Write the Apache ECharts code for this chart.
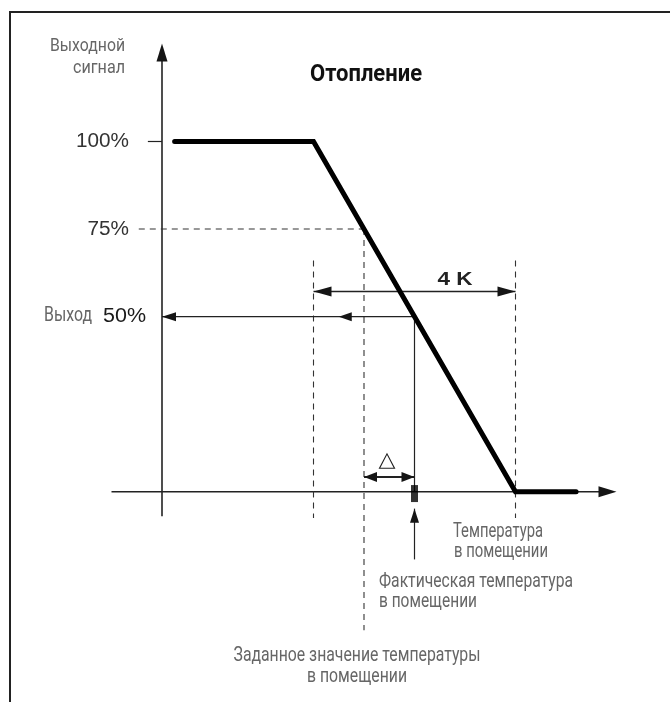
<!DOCTYPE html>
<html><head><meta charset="utf-8">
<script src="https://cdn.jsdelivr.net/npm/echarts@6/dist/echarts.min.js"></script>
<style>html,body{margin:0;padding:0;background:#fff}#c{width:670px;height:702px}</style>
</head><body><div id="c"></div>
<script>
// ---- data (temperature in K relative to the output axis, output in %) ----
const temperature = [0.25, 3, 7, 8.2];
const outputSignal = [100, 100, 0, 0];
const bandLow = 3, bandHigh = 7, setpoint = 4, actualTemp = 5;
const actualOutput = 50, setpointOutput = 75;
const tickValues = [100, 75, 50];
const tickLabels = ['100%', '75%', '50%'];
const axisXRange = [-1, 9];
const axisYRange = [-7, 128];

const COND = 'Roboto,"Liberation Sans",sans-serif';
const REG = '"Liberation Sans",Arial,sans-serif';

// guide segments: [kind, x1, y1, x2, y2]
const segments = [
  ['axis', axisXRange[0], 0, axisXRange[1], 0],
  ['axis', 0, axisYRange[0], 0, axisYRange[1]],
  ['tick', -0.28, 100, 0, 100],
  ['dash', -0.46, setpointOutput, setpoint, setpointOutput],
  ['dash', setpoint, setpointOutput, setpoint, -39.5],
  ['dash', bandLow, 66, bandLow, -7.5],
  ['dash', bandHigh, 66, bandHigh, -7.5],
  ['dbl', bandLow, 57.2, bandHigh, 57.2],
  ['ptr', actualTemp, actualOutput, 0, actualOutput],
  ['head', actualTemp, actualOutput, 3.5, actualOutput],
  ['thin', actualTemp, actualOutput, actualTemp, 0],
  ['ptr', actualTemp, -19.3, actualTemp, -4.8],
  ['dblS', setpoint, 4.2, actualTemp, 4.2]
];

const mctx = document.createElement('canvas').getContext('2d');
function fitScale(text, font, w) {
  if (!w) return 1;
  mctx.font = font;
  const m = mctx.measureText(text).width;
  return m > 0 ? w / m : 1;
}
function txt(text, x, y, align, font, fill, w) {
  return { type: 'text', x: x, y: y, scaleX: fitScale(text, font, w), style: { text: text, font: font, fill: fill, textAlign: align, textVerticalAlign: 'middle' } };
}

function head(tip, ux, uy, L, W) {
  const bx = tip[0] - ux * L, by = tip[1] - uy * L;
  const nx = -uy, ny = ux;
  return { type: 'polygon', shape: { points: [[tip[0], tip[1]], [bx + nx * W / 2, by + ny * W / 2], [bx - nx * W / 2, by - ny * W / 2]] }, style: { fill: '#151515' } };
}

function renderSeg(params, api) {
  const s = segments[params.dataIndex];
  const kind = s[0];
  const p1 = api.coord([s[1], s[2]]), p2 = api.coord([s[3], s[4]]);
  const dx = p2[0] - p1[0], dy = p2[1] - p1[1];
  const len = Math.hypot(dx, dy), ux = dx / len, uy = dy / len;
  const ch = [];
  const line = (a, b, w, col, dash) => ({ type: 'line', shape: { x1: a[0], y1: a[1], x2: b[0], y2: b[1] }, style: { stroke: col, lineWidth: w, lineDash: dash || null } });
  if (kind === 'axis') {
    ch.push(line(p1, [p2[0] - ux * 10, p2[1] - uy * 10], 1.6, '#222'));
    ch.push(head(p2, ux, uy, 18, 11));
  } else if (kind === 'tick' || kind === 'thin') {
    ch.push(line(p1, p2, 1.2, '#222'));
  } else if (kind === 'dash') {
    ch.push(line(p1, p2, 1.1, '#333', [6, 5]));
  } else if (kind === 'dbl') {
    ch.push(line(p1, p2, 1.4, '#222'));
    ch.push(head(p1, -ux, -uy, 18, 10));
    ch.push(head(p2, ux, uy, 18, 10));
  } else if (kind === 'dblS') {
    ch.push(line(p1, p2, 2, '#222'));
    ch.push(head(p1, -ux, -uy, 13, 10));
    ch.push(head(p2, ux, uy, 13, 10));
  } else if (kind === 'ptr') {
    ch.push(line(p1, p2, 1.2, '#222'));
    ch.push(head(p2, ux, uy, 14, 9));
  } else if (kind === 'head') {
    ch.push(head(p2, ux, uy, 13, 9));
  }
  return { type: 'group', children: ch };
}

function renderTick(params, api) {
  const v = tickValues[params.dataIndex];
  const label = tickLabels[params.dataIndex];
  const p = api.coord([0, v]);
  const ch = [];
  const isOut = v === actualOutput;
  const f = '20px ' + REG;
  const widths = { '100%': 53, '75%': 41.5, '50%': 43 };
  ch.push(txt(label, p[0] - (isOut ? 16 : 33), p[1], 'right', f, isOut ? '#1a1a1a' : '#333', widths[label]));
  if (isOut) ch.push(txt('Выход', p[0] - 70, p[1] - 1, 'right', '20px ' + COND, '#666', 48));
  return { type: 'group', children: ch };
}

const gray = '#666';
const chart = echarts.init(document.getElementById('c'));
chart.setOption({
  animation: false,
  backgroundColor: '#fff',
  grid: { left: 111.5, width: 505, top: 36.4, height: 668.8 },
  xAxis: { type: 'value', min: -1, max: 9, show: false },
  yAxis: { type: 'value', min: -60, max: 130, show: false },
  graphic: [
    { type: 'rect', shape: { x: 10, y: 12, width: 720, height: 720 }, style: { fill: 'none', stroke: '#222', lineWidth: 2 } },
    txt('Выходной', 125, 46.5, 'right', '19px ' + COND, gray, 75),
    txt('сигнал', 125, 68, 'right', '19px ' + COND, gray, 52),
    txt('Отопление', 366, 75, 'center', 'bold 24px ' + COND, '#111', 112),
    txt('4 K', 455, 280, 'center', 'bold 19px ' + REG, '#222', 35),
    txt('△', 387, 461, 'center', '21px "DejaVu Sans"', '#222', 17),
    txt('Температура', 453, 532, 'left', '20px ' + COND, gray, 90),
    txt('в помещении', 454, 552, 'left', '20px ' + COND, gray, 94),
    txt('Фактическая температура', 379, 582, 'left', '20px ' + COND, gray, 194),
    txt('в помещении', 379, 602, 'left', '20px ' + COND, gray, 98),
    txt('Заданное значение температуры', 357, 656, 'center', '20px ' + COND, gray, 247),
    txt('в помещении', 357, 677, 'center', '20px ' + COND, gray, 100)
  ],
  series: [
    { type: 'custom', renderItem: renderSeg, data: segments.map(s => [s[1], s[2], s[3], s[4]]), encode: { x: [0, 2], y: [1, 3] }, clip: false, silent: true, z: 2 },
    { type: 'custom', renderItem: renderTick, data: tickValues.map(v => [0, v]), encode: { x: 0, y: 1 }, clip: false, silent: true, z: 3 },
    { type: 'line', data: temperature.map((t, i) => [t, outputSignal[i]]), symbol: 'none', lineStyle: { width: 5, color: '#000', cap: 'round', join: 'miter' }, z: 5, silent: true },
    { type: 'scatter', data: [[actualTemp, -0.5]], symbol: 'rect', symbolSize: [7, 17], itemStyle: { color: '#000' }, z: 6, silent: true }
  ]
});
</script></body></html>
